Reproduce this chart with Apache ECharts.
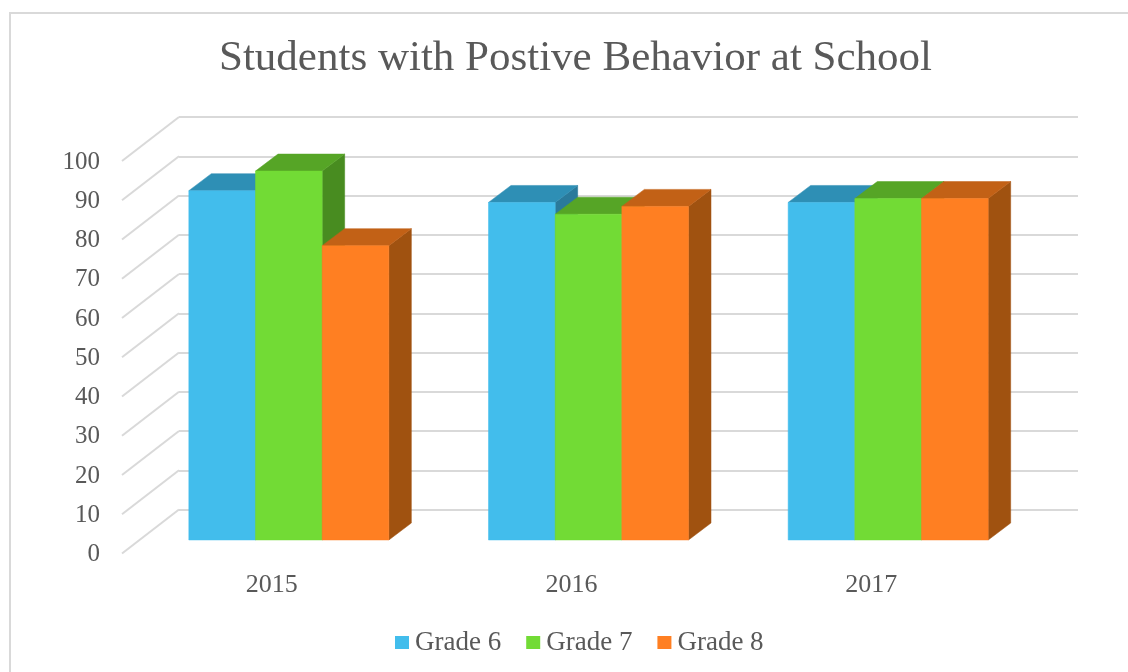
<!DOCTYPE html>
<html>
<head>
<meta charset="utf-8">
<style>html,body{margin:0;padding:0;background:#fff}#c{width:1128px;height:672px}</style>
<script src="https://cdn.jsdelivr.net/npm/echarts@6/dist/echarts.min.js"></script>
</head>
<body>
<div id="c"></div>
<script>
var titleText = 'Students with Postive Behavior at School';
var categories = ['2015', '2016', '2017'];
var tickValues = [0, 10, 20, 30, 40, 50, 60, 70, 80, 90, 100];
var grade6 = [89, 86, 86];
var grade7 = [94, 83, 87];
var grade8 = [75, 85, 87];

var FONT = '"Liberation Serif", serif';
var TEXT = '#595959';
var GRID = '#d9d9d9';
var WALL_LEFT = 179, PLOT_W = 899, PLOT_H = 392.5;

function barSeries(name, values, idx, front, top, side) {
  return {
    name: name, type: 'custom', xAxisIndex: 2, yAxisIndex: 2, clip: false,
    itemStyle: { color: front }, z: 5,
    encode: { x: 0, y: 1 },
    data: values.map(function (v, i) { return [i, v]; }),
    renderItem: function (params, api) {
      var band = api.size([1, 0])[0];
      var w = band * 0.2225;
      var dx = 22.5, dy = -17;
      var c = api.coord([api.value(0), api.value(1)]);
      var b = api.coord([api.value(0), 0]);
      var x0 = c[0] + (idx - 1.5) * w, x1 = x0 + w, yt = c[1], yb = b[1];
      function poly(pts, fill) {
        return { type: 'polygon', shape: { points: pts }, style: { fill: fill, stroke: fill, lineWidth: 0.5 } };
      }
      return { type: 'group', children: [
        poly([[x1, yt], [x1 + dx, yt + dy], [x1 + dx, yb + dy], [x1, yb]], side),
        poly([[x0, yt], [x0 + dx, yt + dy], [x1 + dx, yt + dy], [x1, yt]], top),
        poly([[x0, yt], [x1, yt], [x1, yb], [x0, yb]], front)
      ] };
    }
  };
}

var chart = echarts.init(document.getElementById('c'), null, { renderer: 'canvas' });
chart.setOption({
  animation: false,
  backgroundColor: '#ffffff',
  textStyle: { fontFamily: FONT },
  graphic: [{
    type: 'rect', z: 0, silent: true,
    shape: { x: 10, y: 13, width: 1140, height: 680 },
    style: { fill: 'none', stroke: GRID, lineWidth: 2 }
  }],
  title: {
    text: titleText, left: 214, top: 32,
    textStyle: { fontFamily: FONT, fontWeight: 'normal', fontSize: 43, color: TEXT }
  },
  legend: {
    left: 390, top: 624, itemWidth: 14, itemHeight: 13, itemGap: 25,
    icon: 'rect', data: ['Grade 6', 'Grade 7', 'Grade 8'],
    textStyle: { fontFamily: FONT, fontSize: 27, color: TEXT, padding: [0, 0, 0, 1] }
  },
  grid: [
    { left: WALL_LEFT, width: PLOT_W, top: 117, height: PLOT_H },
    { left: WALL_LEFT - 57, width: PLOT_W, top: 162, height: PLOT_H },
    { left: WALL_LEFT - 40, width: PLOT_W, top: 147.5, height: PLOT_H }
  ],
  xAxis: [
    { gridIndex: 0, type: 'category', data: categories, axisLine: { show: false }, axisTick: { show: false }, axisLabel: { show: false } },
    { gridIndex: 1, type: 'category', data: categories, axisLine: { show: false }, axisTick: { show: false },
      axisLabel: { fontFamily: FONT, fontSize: 26, color: TEXT, margin: 18 } },
    { gridIndex: 2, type: 'category', data: categories, axisLine: { show: false }, axisTick: { show: false }, axisLabel: { show: false } }
  ],
  yAxis: [
    { gridIndex: 0, type: 'value', min: 0, max: 100, interval: 10, axisLabel: { show: false },
      axisLine: { show: false }, axisTick: { show: false },
      splitLine: { show: true, lineStyle: { color: GRID, width: 2 } } },
    { gridIndex: 1, type: 'value', min: 0, max: 100, interval: 10, splitLine: { show: false },
      axisLine: { show: false }, axisTick: { show: false },
      axisLabel: { fontFamily: FONT, fontSize: 25, color: TEXT, margin: 22 } },
    { gridIndex: 2, type: 'value', min: 0, max: 100, interval: 10, splitLine: { show: false },
      axisLine: { show: false }, axisTick: { show: false }, axisLabel: { show: false } }
  ],
  series: [
    {
      type: 'custom', xAxisIndex: 0, yAxisIndex: 0, clip: false, silent: true, z: 1,
      encode: { y: 0 },
      data: tickValues.map(function (v) { return [v]; }),
      renderItem: function (params, api) {
        var p = api.coord([0, api.value(0)]);
        var x = WALL_LEFT;
        return { type: 'line', shape: { x1: x, y1: p[1], x2: x - 57, y2: p[1] + 44 },
          style: { stroke: GRID, lineWidth: 2, fill: 'none' } };
      }
    },
    barSeries('Grade 6', grade6, 0, '#42bdec', '#2e8fb5', '#2a7a9b'),
    barSeries('Grade 7', grade7, 1, '#72db35', '#56a526', '#488c20'),
    barSeries('Grade 8', grade8, 2, '#ff7f22', '#c26116', '#a05210')
  ]
});
</script>
</body>
</html>
